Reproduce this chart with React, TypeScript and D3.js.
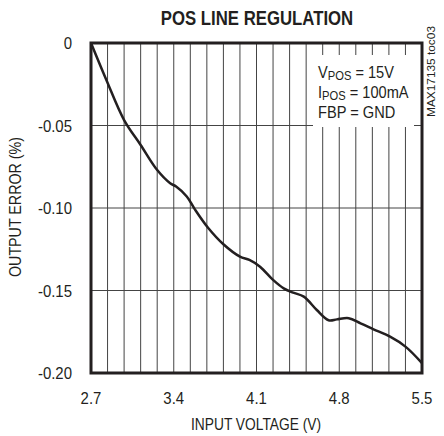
import React from "react";
import * as d3 from "d3";

const voltages = [2.7, 2.83, 2.98, 3.12, 3.26, 3.37, 3.42, 3.51, 3.58, 3.69, 3.82, 3.96, 4.04, 4.13, 4.24, 4.33, 4.41, 4.5, 4.61, 4.71, 4.78, 4.88, 4.98, 5.09, 5.23, 5.36, 5.5];
const errors = [0, -0.0224, -0.0467, -0.0618, -0.077, -0.085, -0.087, -0.093, -0.101, -0.112, -0.122, -0.1295, -0.1315, -0.1356, -0.1436, -0.1487, -0.1513, -0.1537, -0.1618, -0.168, -0.1675, -0.1668, -0.1699, -0.1735, -0.178, -0.184, -0.194];
const xTicks = [2.7, 3.4, 4.1, 4.8, 5.5];
const xTickLabels = ["2.7", "3.4", "4.1", "4.8", "5.5"];
const yTicks = [0, -0.05, -0.1, -0.15, -0.2];
const yTickLabels = ["0", "-0.05", "-0.10", "-0.15", "-0.20"];

const FONT = "'Liberation Sans', Arial, sans-serif";
const ink = "#231f20";

function T(props: { x: number; y: number; sx?: number; rot?: number; anchor?: string; size?: number; weight?: string; children: React.ReactNode }) {
  const { x, y, sx = 0.84, rot = 0, anchor = "start", size = 17, weight = "normal", children } = props;
  return (
    <text
      transform={`translate(${x},${y}) rotate(${rot}) scale(${sx},1)`}
      textAnchor={anchor}
      fontSize={size}
      fontWeight={weight}
      fill={ink}
    >
      {children}
    </text>
  );
}

export default function App() {
  const L = 91, R = 422, Tp = 43, B = 373;
  const x = d3.scaleLinear().domain([2.7, 5.5]).range([L, R]);
  const y = d3.scaleLinear().domain([-0.2, 0]).range([B, Tp]);
  const vGrid = d3.range(1, 20).map((i) => 2.7 + i * 0.14);
  const hGrid = [-0.05, -0.1, -0.15];
  const line = d3
    .line<number>()
    .x((_, i) => x(voltages[i]))
    .y((d) => y(d))
    .curve(d3.curveCatmullRom.alpha(0.5));
  return (
    <svg width={444} height={436} style={{ position: "absolute", left: 0, top: 0, background: "#fff" }} fontFamily={FONT}>
      <rect width={444} height={436} fill="#fff" />
      <T x={257} y={25} anchor="middle" size={19.5} weight="bold" sx={0.86}>POS LINE REGULATION</T>
      {vGrid.map((v, i) => (
        <line key={"v" + i} x1={x(v)} x2={x(v)} y1={Tp} y2={B} stroke="#444" strokeWidth={1} />
      ))}
      {hGrid.map((v, i) => (
        <line key={"h" + i} x1={L} x2={R} y1={y(v)} y2={y(v)} stroke="#444" strokeWidth={1} />
      ))}
      <rect x={313} y={55} width={101} height={72} fill="#fff" />
      <path d={line(errors) || ""} fill="none" stroke={ink} strokeWidth={2.5} />
      <rect x={L} y={Tp} width={R - L} height={B - Tp} fill="none" stroke={ink} strokeWidth={3} />
      {yTicks.map((v, i) => (
        <T key={"yt" + i} x={72} y={y(v) + 6} anchor="end" sx={0.88}>{yTickLabels[i]}</T>
      ))}
      {xTicks.map((v, i) => (
        <T key={"xt" + i} x={x(v)} y={404} anchor="middle" sx={0.88}>{xTickLabels[i]}</T>
      ))}
      <T x={256} y={430} anchor="middle" sx={0.81}>INPUT VOLTAGE (V)</T>
      <T x={21} y={207} anchor="middle" rot={-90} sx={0.84}>OUTPUT ERROR (%)</T>
      <text
        transform="translate(435,26) rotate(-90)"
        textAnchor="end"
        fontSize={10.5}
        textLength={91}
        lengthAdjust="spacingAndGlyphs"
        fill={ink}
      >
        MAX17135 toc03
      </text>
      <T x={318} y={78} sx={0.86}>V<tspan fontSize={13} dy={2}>POS</tspan><tspan dy={-2}> = 15V</tspan></T>
      <T x={318} y={98} sx={0.86}>I<tspan fontSize={13} dy={2}>POS</tspan><tspan dy={-2}> = 100mA</tspan></T>
      <T x={318} y={118} sx={0.86}>FBP = GND</T>
    </svg>
  );
}
